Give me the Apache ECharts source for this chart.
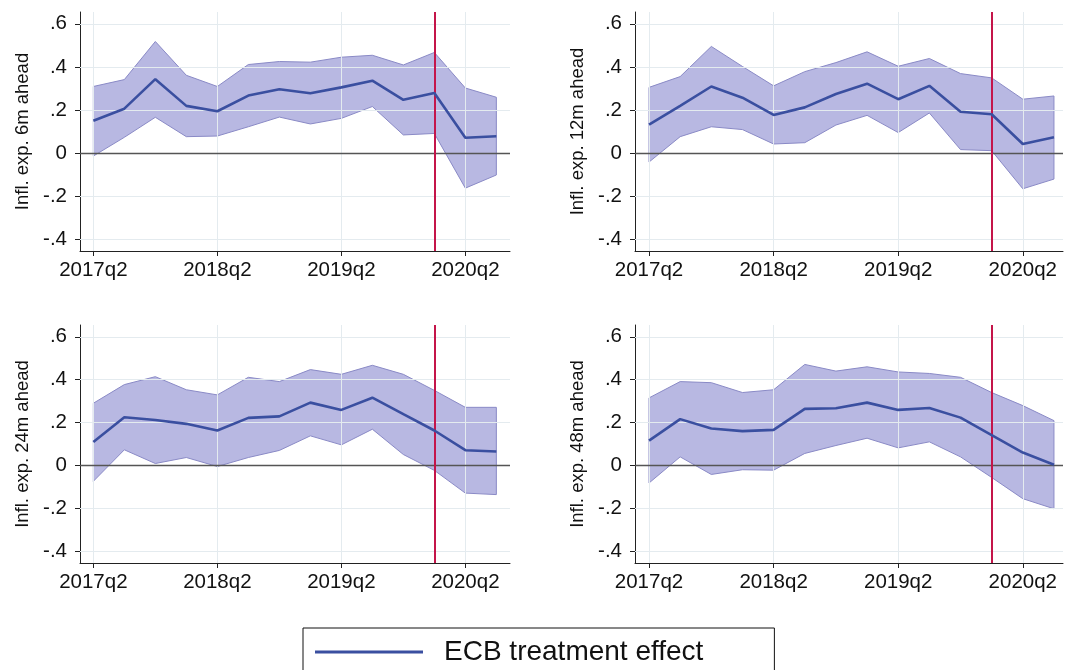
<!DOCTYPE html>
<html>
<head>
<meta charset="utf-8">
<script src="https://cdn.jsdelivr.net/npm/echarts@6/dist/echarts.min.js"></script>
<style>
html,body{margin:0;padding:0;background:#fff;}
#chart{width:1066px;height:670px;}
</style>
</head>
<body>
<div id="chart"></div>
<script>
// Quarters (x positions are the index into this list)
const quarters = ['2017q2','2017q3','2017q4','2018q1','2018q2','2018q3','2018q4',
                  '2019q1','2019q2','2019q3','2019q4','2020q1','2020q2','2020q3'];
const xTickQuarters = ['2017q2','2018q2','2019q2','2020q2'];
const eventQuarter = '2020q1';
const yTicks = [-0.4, -0.2, 0, 0.2, 0.4, 0.6];
const panelTitles = ['Infl. exp. 6m ahead','Infl. exp. 12m ahead','Infl. exp. 24m ahead','Infl. exp. 48m ahead'];
const legendName = 'ECB treatment effect';

// 6m ahead
const est6  = [0.150,0.206,0.343,0.219,0.194,0.267,0.296,0.278,0.305,0.336,0.247,0.279,0.071,0.078];
const hi6   = [0.309,0.341,0.518,0.361,0.309,0.411,0.425,0.422,0.445,0.454,0.409,0.467,0.302,0.259];
const lo6   = [-0.014,0.073,0.166,0.076,0.079,0.122,0.167,0.135,0.161,0.216,0.084,0.091,-0.163,-0.102];
// 12m ahead
const est12 = [0.132,0.219,0.309,0.257,0.177,0.212,0.274,0.322,0.250,0.312,0.192,0.180,0.042,0.073];
const hi12  = [0.305,0.355,0.495,0.402,0.312,0.378,0.420,0.470,0.403,0.439,0.369,0.349,0.250,0.265];
const lo12  = [-0.042,0.076,0.122,0.109,0.042,0.048,0.130,0.175,0.095,0.186,0.016,0.011,-0.166,-0.121];
// 24m ahead
const est24 = [0.109,0.225,0.212,0.194,0.163,0.222,0.229,0.293,0.259,0.316,0.239,0.163,0.071,0.065];
const hi24  = [0.290,0.377,0.414,0.353,0.329,0.411,0.391,0.447,0.425,0.467,0.425,0.350,0.271,0.271];
const lo24  = [-0.074,0.073,0.009,0.037,-0.005,0.037,0.070,0.138,0.096,0.169,0.051,-0.023,-0.129,-0.136];
// 48m ahead
const est48 = [0.116,0.216,0.172,0.160,0.166,0.264,0.267,0.293,0.259,0.268,0.223,0.141,0.060,0.003];
const hi48  = [0.315,0.391,0.386,0.340,0.353,0.471,0.440,0.460,0.436,0.429,0.411,0.340,0.279,0.209];
const lo48  = [-0.082,0.040,-0.042,-0.020,-0.022,0.056,0.093,0.127,0.082,0.110,0.040,-0.056,-0.155,-0.202];

const panels = [
  {est: est6,  hi: hi6,  lo: lo6},
  {est: est12, hi: hi12, lo: lo12},
  {est: est24, hi: hi24, lo: lo24},
  {est: est48, hi: hi48, lo: lo48}
];

const grids = [
  {left: 80,  top: 12,  width: 430, height: 239},
  {left: 635, top: 12,  width: 428, height: 239},
  {left: 80,  top: 325, width: 430, height: 238},
  {left: 635, top: 325, width: 428, height: 238}
];
const xRanges = [[-0.43, 13.44], [-0.45, 13.29], [-0.43, 13.44], [-0.45, 13.29]];

const FONT = 'Liberation Sans, Arial, Helvetica, sans-serif';
const gridColor = '#e4ebef';
const bandFill = 'rgba(150,150,212,0.68)';
const bandEdge = '#8a8ac6';
const lineColor = '#3a4fa0';
const redColor = '#c4154a';

const xTickIdx = xTickQuarters.map(q => quarters.indexOf(q));
const eventIdx = quarters.indexOf(eventQuarter);

function yFmt(v) {
  if (Math.abs(v) < 1e-9) return '0';
  const s = Math.abs(v).toFixed(1).replace(/^0/, '');
  return (v < 0 ? '-' : '') + s;
}

const xAxes = [], yAxes = [], series = [];
panels.forEach((p, i) => {
  xAxes.push({
    gridIndex: i, type: 'value', min: xRanges[i][0], max: xRanges[i][1],
    axisLine: {show: true, onZero: false, lineStyle: {color: '#222', width: 1}},
    axisTick: {show: true, length: 5, customValues: xTickIdx, lineStyle: {color: '#222'}},
    axisLabel: {customValues: xTickIdx, formatter: v => quarters[Math.round(v)], fontSize: 20.5,
                fontFamily: FONT, color: '#111', margin: 9},
    splitLine: {show: false}
  });
  yAxes.push({
    gridIndex: i, type: 'value', min: -0.455, max: 0.655,
    name: panelTitles[i], nameLocation: 'middle', nameGap: 48,
    nameTextStyle: {fontSize: 18.5, fontFamily: FONT, color: '#111'},
    axisLine: {show: true, onZero: false, lineStyle: {color: '#222', width: 1}},
    axisTick: {show: true, length: 5, customValues: yTicks, lineStyle: {color: '#222'}},
    axisLabel: {customValues: yTicks, formatter: yFmt, fontSize: 20.5, fontFamily: FONT, color: '#111', margin: 13},
    splitLine: {show: false}
  });
  // grid lines at the labelled ticks
  series.push({
    type: 'line', name: 'grid' + i, xAxisIndex: i, yAxisIndex: i, data: [], silent: true, z: 1,
    markLine: {
      silent: true, symbol: 'none', label: {show: false}, animation: false,
      lineStyle: {color: gridColor, width: 1, type: 'solid'},
      data: xTickIdx.map(v => ({xAxis: v})).concat(yTicks.filter(v => v !== 0).map(v => ({yAxis: v})))
    }
  });
  // confidence band as a polygon through the axis scales
  series.push({
    type: 'custom', name: 'band' + i, xAxisIndex: i, yAxisIndex: i,
    data: quarters.map((q, k) => [k, p.lo[k], p.hi[k]]),
    silent: true, z: 2,
    renderItem: function (params, api) {
      if (params.dataIndex !== 0) return null;
      const pts = [];
      for (let k = 0; k < quarters.length; k++) pts.push(api.coord([k, p.hi[k]]));
      for (let k = quarters.length - 1; k >= 0; k--) pts.push(api.coord([k, p.lo[k]]));
      return {type: 'polygon', shape: {points: pts},
              style: {fill: bandFill, stroke: bandEdge, lineWidth: 1}};
    }
  });
  series.push({
    type: 'line', name: legendName, xAxisIndex: i, yAxisIndex: i,
    data: quarters.map((q, k) => [k, p.est[k]]),
    symbol: 'none', z: 5,
    lineStyle: {color: lineColor, width: 2.6},
    itemStyle: {color: lineColor},
    markLine: {
      silent: true, symbol: 'none', label: {show: false},
      data: [
        {yAxis: 0, lineStyle: {color: '#555', width: 1.3, type: 'solid'}},
        {xAxis: eventIdx, lineStyle: {color: redColor, width: 2, type: 'solid'}}
      ]
    }
  });
});

const chart = echarts.init(document.getElementById('chart'), null, {renderer: 'canvas'});
chart.setOption({
  animation: false,
  backgroundColor: '#fff',
  grid: grids,
  xAxis: xAxes,
  yAxis: yAxes,
  legend: {
    data: [{name: legendName, icon: 'rect'}], left: 303, top: 628,
    borderColor: '#111', borderWidth: 1,
    padding: [10, 71, 40, 12],
    itemWidth: 108, itemHeight: 3,
    itemStyle: {color: lineColor},
    textStyle: {fontSize: 28, fontFamily: FONT, color: '#111', padding: [0, 0, 0, 16]}
  },
  series: series
});
</script>
</body>
</html>
